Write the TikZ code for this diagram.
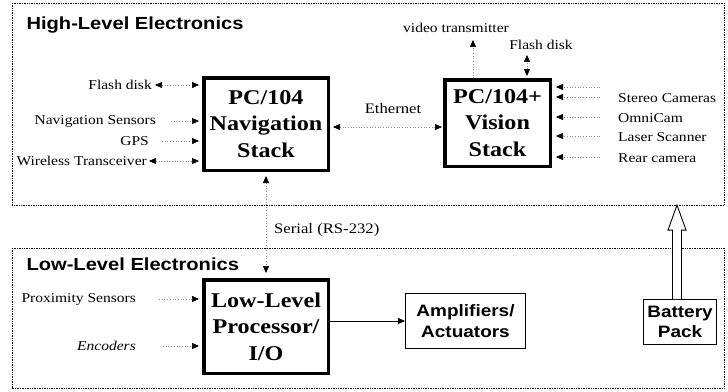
\documentclass[tikz,border=0pt]{standalone}
\usepackage{fontspec}
\setmainfont{Liberation Serif}[FakeStretch=1.15]
\setsansfont{Liberation Sans}[FakeStretch=1.15]
\usetikzlibrary{arrows.meta}

\newcommand\lblfont{\fontsize{13.5}{15}\selectfont}
\newcommand\stackfont{\fontsize{21}{26.5}\selectfont\bfseries}
\newcommand\unitfont{\fontsize{16.5}{20.5}\selectfont\sffamily\bfseries}
\newcommand\titlefont{\fontsize{17.5}{20}\selectfont\sffamily\bfseries}

\begin{document}
\begin{tikzpicture}[x=1pt,y=-1pt,
  >={Triangle[length=7pt,width=6pt,color=black]},
  frame/.style={densely dotted, line width=0.7pt},
  stack/.style={draw, line width=3.5pt, align=center, inner sep=0pt, font=\stackfont},
  unit/.style={draw, line width=0.9pt, align=center, inner sep=0pt, font=\unitfont},
  lbl/.style={font=\lblfont, inner sep=1pt},
  link/.style={dotted, black!45, line width=0.7pt}]
  \useasboundingbox (0,0) rectangle (728,391);
  % the two boards
  \draw[frame] (12,3) rectangle (724,205);
  \draw[frame] (12,248) rectangle (724,388);
  \node[font=\titlefont, anchor=base west] (hltitle) at (23,29) {High-Level Electronics};
  \node[font=\titlefont, anchor=base west] (lltitle) at (23,270) {Low-Level Electronics};
  % stacks and units
  \node[stack, minimum width=124.5, minimum height=92.5] (navbox) at (266,124) {PC/104\\Navigation\\Stack};
  \node[stack, minimum width=105.5, minimum height=86.5] (vision) at (497.5,123) {PC/104+\\Vision\\Stack};
  \node[stack, minimum width=124.5, minimum height=93.5] (llbox) at (266,326.5) {Low-Level\\Processor/\\I/O};
  \node[unit, minimum width=120, minimum height=55] (amp) at (465.5,321) {Amplifiers/\\Actuators};
  \node[unit, minimum width=73, minimum height=45] (battery) at (680,322) {Battery\\Pack};
  % navigation stack peripherals
  \foreach \i/\t/\xe/\yy in {1/Flash disk/153/85, 2/Navigation Sensors/157/121, 3/GPS/150/141, 4/Wireless Transceiver/148/161}
    \node[lbl, anchor=east] (nav\i) at (\xe,\yy) {\t};
  \draw[link, <->, shorten <=2pt, shorten >=3pt] (nav1.east) -- (nav1.east -| navbox.west);
  \draw[link, ->, shorten <=14pt, shorten >=3pt] (nav2.east) -- (nav2.east -| navbox.west);
  \draw[link, ->, shorten <=12pt, shorten >=3pt] (nav3.east) -- (nav3.east -| navbox.west);
  \draw[link, <->, shorten <=1pt, shorten >=3pt] (nav4.east) -- (nav4.east -| navbox.west);
  % vision stack peripherals
  \foreach \i/\t/\yy in {1/Stereo Cameras/98, 2/OmniCam/118, 3/Laser Scanner/137, 4/Rear camera/158}
    \node[lbl, anchor=west] (vis\i) at (617,\yy) {\t};
  \draw[link, ->, shorten >=4pt] ([xshift=-17pt,yshift=11pt]vis1.west) -- ([yshift=11pt]vis1.west -| vision.east);
  \draw[link, ->, shorten >=4pt] ([xshift=-17pt,yshift=1pt]vis1.west) -- ([yshift=1pt]vis1.west -| vision.east);
  \foreach \i in {2,3,4}
    \draw[link, ->, shorten >=4pt] ([xshift=-17pt,yshift=1pt]vis\i.west) -- ([yshift=1pt]vis\i.west -| vision.east);
  \node[lbl] (vtx) at (456,28) {video transmitter};
  \node[lbl] (vfd) at (541,45) {Flash disk};
  \draw[link, ->, shorten >=6pt] ([xshift=-24.5pt]vision.north) -- ([xshift=-24.5pt]vision.north |- vtx.south);
  \draw[link, <->, shorten <=2pt, shorten >=4pt] ([xshift=29.5pt]vision.north) -- ([xshift=29.5pt]vision.north |- vfd.south);
  % buses
  \node[lbl, font=\fontsize{14.5}{16}\selectfont] (eth) at (393,109) {Ethernet};
  \draw[link, <->, shorten <=3pt, shorten >=1pt] ([yshift=-3pt]navbox.east) -- ([yshift=-3pt]navbox.east -| vision.west);
  \node[lbl, font=\fontsize{14.5}{16}\selectfont, anchor=west] (serial) at (273,230) {Serial (RS-232)};
  \draw[link, <->, shorten <=4pt, shorten >=5pt] (navbox.south) -- (llbox.north);
  % low-level inputs and outputs
  \node[lbl, anchor=east] (prox) at (137,299) {Proximity Sensors};
  \node[lbl, anchor=east, font=\lblfont\itshape] (enc) at (137,346) {Encoders};
  \draw[link, ->, shorten <=22pt, shorten >=3pt] (prox.east) -- (prox.east -| llbox.west);
  \draw[link, ->, shorten <=26pt, shorten >=3pt] (enc.east) -- (enc.east -| llbox.west);
  \draw[->, line width=0.9pt] (amp.west -| llbox.east) -- (amp.west);
  % battery feeds the high-level board
  \draw[line width=0.9pt, fill=white] ([xshift=-7.5pt]battery.north) -- ++(0,-69) -- ++(-4.5,0) -- ++(9,-25) -- ++(9,25) -- ++(-4.5,0) -- ++(0,69);
\end{tikzpicture}
\end{document}
